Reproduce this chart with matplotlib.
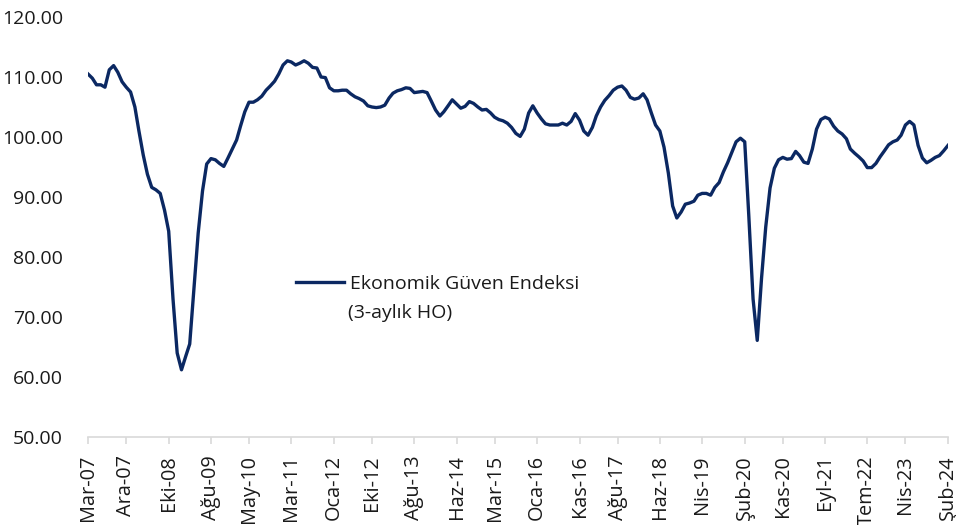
import matplotlib
matplotlib.use("Agg")
import matplotlib.pyplot as plt
import pandas as pd

plt.rcParams['font.family'] = ['Open Sans', 'DejaVu Sans']

start_month = "2007-03"
values = [
    110.5, 109.8, 108.7, 108.7, 108.3, 111.2, 111.9, 110.8, 109.2, 108.3,
    107.5, 105.0, 101.0, 97.0, 93.8, 91.6, 91.2, 90.6, 87.8, 84.3,
    73.0, 64.0, 61.2, 63.5, 65.5, 75.0, 84.0, 91.0, 95.5, 96.4,
    96.2, 95.6, 95.1, 96.5, 98.0, 99.5, 101.8, 104.2, 105.8, 105.8,
    106.2, 106.8, 107.8, 108.5, 109.3, 110.5, 112.0, 112.7, 112.5, 112.0,
    112.3, 112.7, 112.3, 111.6, 111.5, 110.0, 109.9, 108.2, 107.7, 107.7,
    107.8, 107.8, 107.2, 106.7, 106.4, 106.0, 105.2, 105.0, 104.9, 105.0,
    105.3, 106.5, 107.3, 107.7, 107.9, 108.2, 108.1, 107.4, 107.5, 107.6,
    107.4, 106.0, 104.5, 103.5, 104.2, 105.2, 106.2, 105.5, 104.8, 105.1,
    105.9, 105.6, 105.0, 104.5, 104.6, 104.0, 103.3, 102.9, 102.7, 102.3,
    101.6, 100.6, 100.1, 101.3, 104.0, 105.2, 104.0, 103.0, 102.2, 102.0,
    102.0, 102.0, 102.3, 102.0, 102.6, 103.9, 102.8, 101.0, 100.3, 101.6,
    103.5, 105.0, 106.1, 106.9, 107.8, 108.3, 108.5, 107.8, 106.6, 106.3,
    106.5, 107.2, 106.2, 104.0, 102.0, 101.0, 98.3, 94.0, 88.5, 86.5,
    87.5, 88.8, 89.0, 89.3, 90.3, 90.6, 90.6, 90.3, 91.6, 92.4,
    94.2, 95.7, 97.5, 99.2, 99.8, 99.2, 87.0, 73.0, 66.1, 76.5,
    85.0, 91.5, 94.8, 96.2, 96.6, 96.3, 96.4, 97.6, 96.9, 95.8,
    95.6, 98.0, 101.3, 102.9, 103.3, 103.0, 101.8, 101.0, 100.5, 99.7,
    98.0, 97.3, 96.7, 96.0, 94.9, 94.9, 95.6, 96.7, 97.7, 98.7,
    99.2, 99.5, 100.3, 102.0, 102.6, 102.0, 98.6, 96.5, 95.7, 96.1,
    96.6, 96.9, 97.7, 98.6,
]
series_label = "Ekonomik Güven Endeksi"
series_label_2 = "(3-aylık HO)"

tick_dates = ["2007-03", "2007-12", "2008-10", "2009-08", "2010-05", "2011-03",
              "2012-01", "2012-10", "2013-08", "2014-06", "2015-03", "2016-01",
              "2016-11", "2017-08", "2018-06", "2019-04", "2020-02", "2020-11",
              "2021-09", "2022-07", "2023-04", "2024-02"]
tick_labels = ["Mar-07", "Ara-07", "Eki-08", "Ağu-09", "May-10", "Mar-11",
               "Oca-12", "Eki-12", "Ağu-13", "Haz-14", "Mar-15", "Oca-16",
               "Kas-16", "Ağu-17", "Haz-18", "Nis-19", "Şub-20", "Kas-20",
               "Eyl-21", "Tem-22", "Nis-23", "Şub-24"]
y_ticks = [50, 60, 70, 80, 90, 100, 110, 120]

dates = pd.date_range(start_month, periods=len(values), freq="MS")

W, H = 956, 525
fig = plt.figure(figsize=(W / 100, H / 100), dpi=100)
ax = fig.add_axes([88 / W, 1 - 437 / H, (948 - 88) / W, (437 - 17) / H])

line_color = "#0B2862"
ax.plot(dates, values, color=line_color, lw=2.4, solid_joinstyle="round",
        label=series_label)

ax.set_xlim(dates[0], dates[-1])
ax.set_ylim(50, 120)
ax.set_yticks(y_ticks)
ax.set_yticklabels([f"{v:.2f}" for v in y_ticks])
ax.set_xticks(pd.to_datetime(tick_dates))
ax.set_xticklabels(tick_labels, rotation=90)

for s in ["top", "right", "left"]:
    ax.spines[s].set_visible(False)
ax.spines["bottom"].set_color("#d9d9d9")
ax.spines["bottom"].set_linewidth(1.2)
ax.tick_params(axis="y", length=0, pad=18, labelsize=14, labelcolor="#1a1a1a")
ax.tick_params(axis="x", length=5, width=1.2, color="#d9d9d9", pad=8,
               labelsize=14.3, labelcolor="#1a1a1a")

leg = ax.legend(loc="center left", bbox_to_anchor=(286 / W, 1 - 284 / H),
                bbox_transform=fig.transFigure, frameon=False, fontsize=14,
                handlelength=2.5, handletextpad=0.3, borderpad=0,
                labelcolor="#1a1a1a")
fig.text(348 / W, 1 - 313 / H, series_label_2, fontsize=14, color="#1a1a1a",
         va="center", ha="left")

fig.savefig("out.png", dpi=100)
